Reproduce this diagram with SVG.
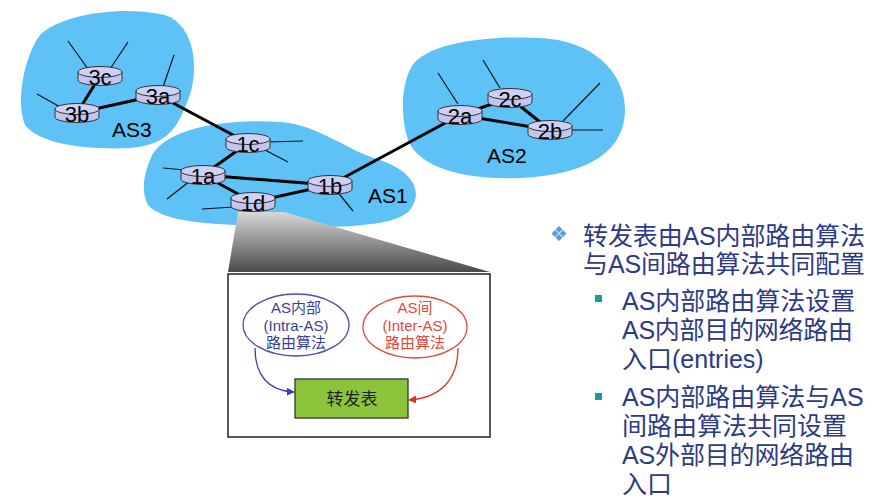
<svg xmlns="http://www.w3.org/2000/svg" xmlns:xlink="http://www.w3.org/1999/xlink" width="879" height="501" viewBox="0 0 879 501">
<style>
.blob{fill:#5ec2f6;stroke:none}
.link{stroke:#000;stroke-width:3;fill:none}
.host{stroke:#111;stroke-width:1.2;fill:none}
.rlab{font-family:"Liberation Sans",Arial,sans-serif;font-size:22px;fill:#000;text-anchor:middle}
.aslab{font-family:"Liberation Sans",Arial,sans-serif;font-size:21px;fill:#000}
.cjk{font-family:"Liberation Sans","Noto Sans CJK SC",sans-serif}
.rt{font-family:"Liberation Sans","Noto Sans CJK SC",sans-serif;font-size:25px;fill:#2d3a85}
</style>
<defs>
<g id="router">
<path d="M-22,-4 v8 a22,5.5 0 0 0 44,0 v-8 z" fill="#c4c4ee" stroke="#333" stroke-width="1"/>
<ellipse cx="0" cy="-4" rx="22" ry="5.5" fill="#d0d0f4" stroke="#333" stroke-width="1"/>
</g>
<linearGradient id="zoomg" x1="0" y1="0" x2="0" y2="1">
<stop offset="0" stop-color="#d8d8d8"/>
<stop offset="1" stop-color="#4a4a4a"/>
</linearGradient>
<marker id="ab" viewBox="0 0 10 10" refX="9" refY="5" markerWidth="8" markerHeight="8" orient="auto" markerUnits="userSpaceOnUse"><path d="M0,0 L10,5 L0,10 z" fill="#3b3bc0"/></marker>
<marker id="ar" viewBox="0 0 10 10" refX="9" refY="5" markerWidth="8" markerHeight="8" orient="auto" markerUnits="userSpaceOnUse"><path d="M0,0 L10,5 L0,10 z" fill="#e03020"/></marker>
</defs>
<rect width="879" height="501" fill="#fff"/>

<g id="as3"><path class="blob" d="M40,35 C60,15 120,5 165,15 C195,25 200,70 188,100 C178,125 170,145 130,148 C90,150 40,145 25,125 C15,100 25,55 40,35 Z"/></g>
<g id="as1"><path class="blob" d="M150,160 C160,130 220,118 280,122 C320,125 345,150 380,160 C410,170 425,190 410,210 C395,228 330,228 280,226 C230,225 165,225 148,205 C140,190 145,172 150,160 Z"/></g>
<g id="as2"><path class="blob" d="M410,70 C420,45 480,35 540,38 C590,40 625,70 625,110 C625,150 590,175 520,178 C470,180 420,170 408,140 C400,115 402,85 410,70 Z"/></g>

<g id="zoom">
<polygon points="238,212 284,212 490,272 228,272" fill="url(#zoomg)"/>
</g>
<g id="box"><rect x="228" y="274" width="262" height="163" fill="#fff" stroke="#222" stroke-width="1.5"/></g>

<g id="connectors">
<line class="link" x1="100" y1="76" x2="77" y2="113"/>
<line class="link" x1="77" y1="113" x2="158" y2="95"/>
<line class="link" x1="158" y1="95" x2="248" y2="143"/>
<line class="link" x1="248" y1="143" x2="203" y2="175"/>
<line class="link" x1="203" y1="175" x2="330" y2="185"/>
<line class="link" x1="203" y1="175" x2="253" y2="202"/>
<line class="link" x1="253" y1="202" x2="330" y2="185"/>
<line class="link" x1="330" y1="185" x2="460" y2="115"/>
<line class="link" x1="460" y1="115" x2="510" y2="98"/>
<line class="link" x1="460" y1="115" x2="550" y2="130"/>
<line class="link" x1="510" y1="98" x2="550" y2="130"/>
<line class="host" x1="88" y1="69" x2="68" y2="41"/>
<line class="host" x1="110" y1="69" x2="128" y2="42"/>
<line class="host" x1="62" y1="108" x2="37" y2="94"/>
<line class="host" x1="163" y1="87" x2="174" y2="55"/>
<line class="host" x1="266" y1="142" x2="303" y2="141"/>
<line class="host" x1="265" y1="150" x2="288" y2="162"/>
<line class="host" x1="185" y1="170" x2="163" y2="168"/>
<line class="host" x1="190" y1="181" x2="167" y2="199"/>
<line class="host" x1="234" y1="207" x2="202" y2="209"/>
<line class="host" x1="336" y1="190" x2="353" y2="211"/>
<line class="host" x1="458" y1="104" x2="438" y2="73"/>
<line class="host" x1="500" y1="88" x2="483" y2="60"/>
<line class="host" x1="563" y1="121" x2="600" y2="83"/>
<line class="host" x1="570" y1="130" x2="603" y2="130"/>
<path d="M255,348 C255,375 268,391 294,392" stroke="#3b3bc0" stroke-width="1.3" fill="none" marker-end="url(#ab)"/>
<path d="M458,348 C458,380 440,398 409,400" stroke="#e03020" stroke-width="1.3" fill="none" marker-end="url(#ar)"/>
</g>

<g id="r3c"><use xlink:href="#router" x="100" y="76"/><text class="rlab" x="100" y="85">3c</text></g>
<g id="r3b"><use xlink:href="#router" x="77" y="113"/><text class="rlab" x="77" y="122">3b</text></g>
<g id="r3a"><use xlink:href="#router" x="158" y="95"/><text class="rlab" x="158" y="104">3a</text></g>
<g id="r1c"><use xlink:href="#router" x="248" y="143"/><text class="rlab" x="248" y="152">1c</text></g>
<g id="r1a"><use xlink:href="#router" x="203" y="175"/><text class="rlab" x="203" y="184">1a</text></g>
<g id="r1d"><use xlink:href="#router" x="253" y="202"/><text class="rlab" x="253" y="211">1d</text></g>
<g id="r1b"><use xlink:href="#router" x="330" y="185"/><text class="rlab" x="330" y="194">1b</text></g>
<g id="r2a"><use xlink:href="#router" x="460" y="115"/><text class="rlab" x="460" y="124">2a</text></g>
<g id="r2c"><use xlink:href="#router" x="510" y="98"/><text class="rlab" x="510" y="107">2c</text></g>
<g id="r2b"><use xlink:href="#router" x="550" y="130"/><text class="rlab" x="550" y="139">2b</text></g>

<text class="aslab" x="112" y="137">AS3</text>
<text class="aslab" x="368" y="203">AS1</text>
<text class="aslab" x="487" y="163">AS2</text>

<g id="intra">
<ellipse cx="296" cy="325" rx="53" ry="31" fill="#fff" stroke="#4a4ab8" stroke-width="1.3"/>
<text class="cjk" font-size="15" fill="#3c3c9c" text-anchor="middle"><tspan x="296" y="313">AS内部</tspan><tspan x="296" y="331">(Intra-AS)</tspan><tspan x="296" y="348">路由算法</tspan></text>
</g>
<g id="inter">
<ellipse cx="415" cy="327" rx="52" ry="31" fill="#fff" stroke="#e04a3a" stroke-width="1.3"/>
<text class="cjk" font-size="15" fill="#e04a3a" text-anchor="middle"><tspan x="415" y="313">AS间</tspan><tspan x="415" y="331">(Inter-AS)</tspan><tspan x="415" y="348">路由算法</tspan></text>
</g>
<g id="fwd">
<rect x="295" y="379" width="113" height="39" fill="#8cc43c" stroke="#333" stroke-width="1.3"/>
<text class="cjk" font-size="17" fill="#222" text-anchor="middle" x="352" y="405">转发表</text>
</g>

<g id="bullets">
<g fill="#5b9be6">
<path d="M559,226 l3.5,3.5 l-3.5,3.5 l-3.5,-3.5 z"/>
<path d="M559,234 l3.5,3.5 l-3.5,3.5 l-3.5,-3.5 z"/>
<path d="M555,230 l3.5,3.5 l-3.5,3.5 l-3.5,-3.5 z"/>
<path d="M563,230 l3.5,3.5 l-3.5,3.5 l-3.5,-3.5 z"/>
</g>
<rect x="595" y="295" width="7" height="7" fill="#1b9a9a"/>
<rect x="595" y="393" width="7" height="7" fill="#1b9a9a"/>
</g>
<g id="text">
<text class="rt" x="583" y="245" textLength="282" lengthAdjust="spacing">转发表由AS内部路由算法</text>
<text class="rt" x="583" y="273" textLength="282" lengthAdjust="spacing">与AS间路由算法共同配置</text>
<text class="rt" x="622" y="310">AS内部路由算法设置</text>
<text class="rt" x="622" y="339" textLength="231" lengthAdjust="spacing">AS内部目的网络路由</text>
<text class="rt" x="622" y="368">入口(entries)</text>
<text class="rt" x="622" y="406">AS内部路由算法与AS</text>
<text class="rt" x="622" y="435">间路由算法共同设置</text>
<text class="rt" x="622" y="464" textLength="232" lengthAdjust="spacing">AS外部目的网络路由</text>
<text class="rt" x="622" y="493">入口</text>
</g>
</svg>
